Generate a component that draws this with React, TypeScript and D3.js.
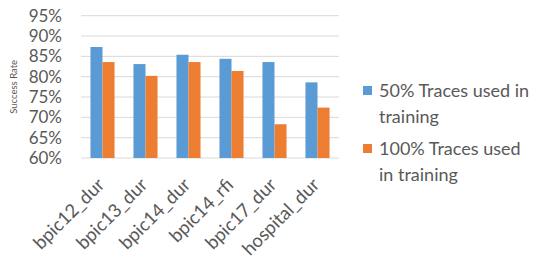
import { useEffect, useRef } from "react";
import * as d3 from "d3";

const categories = ["bpic12_dur", "bpic13_dur", "bpic14_dur", "bpic14_rfi", "bpic17_dur", "hospital_dur"];
const half = [87.3, 83.1, 85.4, 84.4, 83.6, 78.6];
const full = [83.6, 80.2, 83.6, 81.4, 68.3, 72.4];
const yTicks = [60, 65, 70, 75, 80, 85, 90, 95];
const seriesNames = [["50% Traces used in", "training"], ["100% Traces used", "in training"]];
const colors = ["#5b9bd5", "#ed7d31"];

const W = 538;
const H = 265;
const FONT = "Lato, 'Open Sans', sans-serif";

export default function App() {
  const svgRef = useRef<SVGSVGElement | null>(null);

  useEffect(() => {
    const svg = d3.select(svgRef.current);
    svg.selectAll("*").remove();

    const left = 81;
    const right = 339;
    const top = 15.7;
    const bottom = 158;

    const x = d3.scaleBand().domain(categories).range([left, right]).paddingInner(0.44).paddingOuter(0.22);
    const xs = d3.scaleBand().domain(["a", "b"]).range([0, x.bandwidth()]);
    const y = d3.scaleLinear().domain([60, 95]).range([bottom, top]);

    // gridlines
    svg
      .append("g")
      .selectAll("line")
      .data(yTicks)
      .join("line")
      .attr("x1", left)
      .attr("x2", right)
      .attr("y1", (d) => y(d))
      .attr("y2", (d) => y(d))
      .attr("stroke", "#d9d9d9")
      .attr("stroke-width", 1);

    svg
      .append("g")
      .selectAll("text")
      .data(yTicks)
      .join("text")
      .attr("x", left - 19)
      .attr("y", (d) => y(d) + 6)
      .attr("text-anchor", "end")
      .attr("fill", "#595959")
      .attr("font-size", 17)
      .attr("font-family", FONT)
      .text((d) => `${d}%`);

    svg
      .append("text")
      .attr("transform", `translate(17,${(top + bottom) / 2}) rotate(-90)`)
      .attr("text-anchor", "middle")
      .attr("fill", "#595959")
      .attr("font-size", 9.5)
      .attr("font-family", FONT)
      .text("Success Rate");

    const series = [half, full];
    series.forEach((vals, si) => {
      svg
        .append("g")
        .selectAll("rect")
        .data(vals)
        .join("rect")
        .attr("x", (_, i) => (x(categories[i]) ?? 0) + (xs(si === 0 ? "a" : "b") ?? 0))
        .attr("y", (d) => y(d))
        .attr("width", xs.bandwidth())
        .attr("height", (d) => bottom - y(d))
        .attr("fill", colors[si]);
    });

    // category labels
    svg
      .append("g")
      .selectAll("text")
      .data(categories)
      .join("text")
      .attr("transform", (d) => `translate(${(x(d) ?? 0) + x.bandwidth() / 2 + 3},${bottom + 28}) rotate(-45)`)
      .attr("text-anchor", "end")
      .attr("fill", "#595959")
      .attr("font-size", 18.5)
      .attr("font-family", FONT)
      .text((d) => d);

    // legend
    const leg = svg.append("g");
    seriesNames.forEach((lines, i) => {
      const baseY = 97 + i * 58;
      leg
        .append("rect")
        .attr("x", 363)
        .attr("y", baseY - 11)
        .attr("width", 9)
        .attr("height", 9)
        .attr("fill", colors[i]);
      lines.forEach((t, j) => {
        leg
          .append("text")
          .attr("x", 379)
          .attr("y", baseY + j * 26)
          .attr("fill", "#595959")
          .attr("font-size", 18)
          .attr("font-family", FONT)
          .text(t);
      });
    });
  }, []);

  return <svg ref={svgRef} width={W} height={H} style={{ display: "block", margin: -8 }} />;
}
